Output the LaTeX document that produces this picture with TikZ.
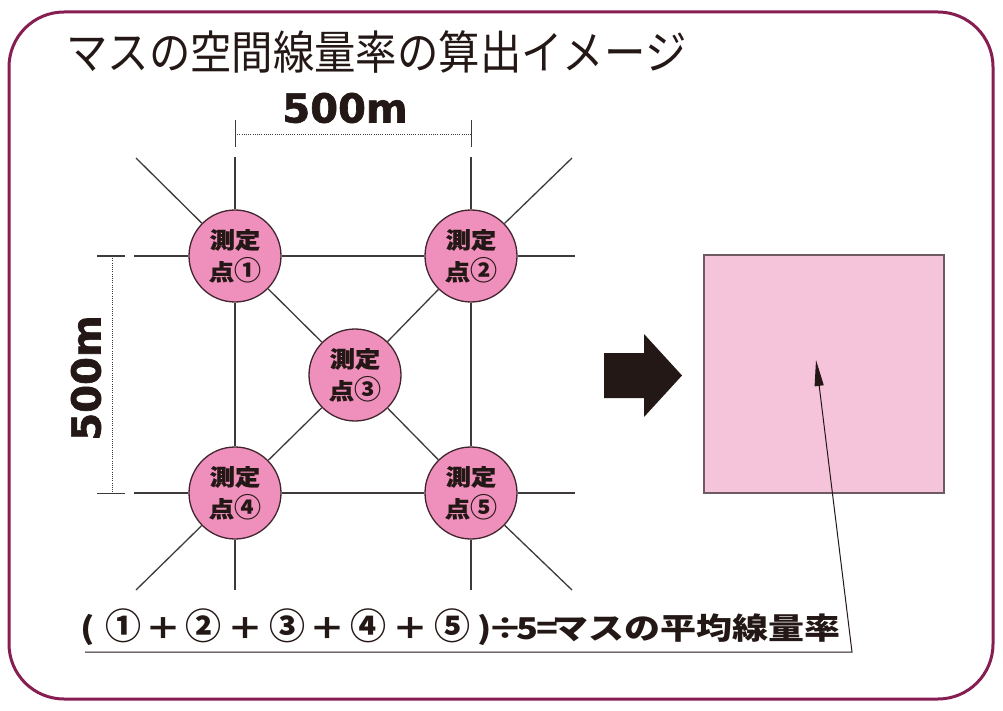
\documentclass[tikz,border=0pt]{standalone}
\usepackage{fontspec}
\usetikzlibrary{arrows.meta}
\newfontfamily\jp{Noto Sans CJK JP}
\newfontfamily\jpt{Noto Sans CJK JP}[FakeStretch=0.9]
\newfontfamily\jpw{Noto Sans CJK JP}[FakeStretch=1.2]
\newfontfamily\jpc{Noto Sans CJK JP}[FakeStretch=1.12,FakeBold=0.8]
\newfontfamily\dvb{DejaVu Sans}[FakeBold=1.6]
\newcommand{\cnum}[1]{{\jp\bfseries\fontsize{27}{27}\selectfont #1}}
\newcommand{\fnum}[1]{{\jp\bfseries\fontsize{36}{36}\selectfont #1}}
\definecolor{borderc}{HTML}{861E52}
\definecolor{circfill}{HTML}{EF8FBB}
\definecolor{circborder}{HTML}{40242E}
\definecolor{sqfill}{HTML}{F5C4DA}
\definecolor{sqborder}{HTML}{6E5A63}
\definecolor{linec}{HTML}{3E3A39}
\definecolor{textc}{HTML}{231815}
\begin{document}
\begin{tikzpicture}[x=1pt,y=-1pt,
  frame/.style={draw=borderc, line width=3pt, rounded corners=55pt},
  gridline/.style={draw=linec, line width=1.3pt},
  dimtick/.style={draw=linec, line width=1pt},
  dimdot/.style={draw=linec, line width=0.9pt, dash pattern=on 1pt off 1.2pt},
  mpoint/.style={circle, draw=circborder, line width=1.3pt, fill=circfill, minimum size=92pt, inner sep=0pt, align=center, font=\jpc\bfseries\fontsize{22.5}{32}\selectfont, text=textc},
  ftok/.style={anchor=base, inner sep=0pt, font=\jpw\bfseries\fontsize{30}{30}\selectfont, text=textc},
  dimlabel/.style={inner sep=0pt, font=\dvb\bfseries\fontsize{40}{40}\selectfont, text=textc},
  titletext/.style={anchor=base west, inner sep=0pt, font=\jpt\fontsize{46}{46}\selectfont, text=textc},
  mass/.style={draw=sqborder, line width=1.2pt, fill=sqfill, minimum width=240pt, minimum height=238pt, inner sep=0pt},
  pointer/.style={draw=textc, line width=1pt, -{Triangle[length=26pt,width=9pt]}},
  bigarrow/.style={fill=textc, draw=none},
]
\useasboundingbox (0,0) rectangle (1003,711);
\fill[white] (0,0) rectangle (1003,711);
\draw[frame] (9,12) rectangle (993,699);

\node[titletext] (title) at (66,70) {マスの空間線量率の算出イメージ};

% dimensions
\node[dimlabel] (dimtop) at (345,108) {500m};
\node[dimlabel, rotate=90] (dimleft) at (86,378) {500m};
\coordinate (tt1a) at (235,120); \coordinate (tt1b) at (235,147);
\coordinate (tt2a) at (471,120); \coordinate (tt2b) at (471,147);
\coordinate (td1) at (235,134); \coordinate (td2) at (471,134);
\draw[dimtick] (tt1a) -- (tt1b);
\draw[dimtick] (tt2a) -- (tt2b);
\draw[dimdot] (td1) -- (td2);
\coordinate (lt1a) at (97,256); \coordinate (lt1b) at (125,256);
\coordinate (lt2a) at (97,493); \coordinate (lt2b) at (125,493);
\coordinate (ld1) at (112,256); \coordinate (ld2) at (112,493);
\draw[dimtick] (lt1a) -- (lt1b);
\draw[dimtick] (lt2a) -- (lt2b);
\draw[dimdot] (ld1) -- (ld2);

% measurement points
\node[mpoint] (p1) at (235,256) {測定\\点\cnum{①}};
\node[mpoint] (p2) at (471,256) {測定\\点\cnum{②}};
\node[mpoint] (p3) at (355,375) {測定\\点\cnum{③}};
\node[mpoint] (p4) at (235,493) {測定\\点\cnum{④}};
\node[mpoint] (p5) at (471,493) {測定\\点\cnum{⑤}};

% grid
\coordinate (v1t) at (235,157); \coordinate (v1b) at (235,590);
\coordinate (v2t) at (471,157); \coordinate (v2b) at (471,590);
\coordinate (h1l) at (134,256); \coordinate (h1r) at (575,256);
\coordinate (h2l) at (134,493); \coordinate (h2r) at (575,493);
\coordinate (d1) at (136,158); \coordinate (d2) at (572,158);
\coordinate (d4) at (136,590); \coordinate (d5) at (572,590);
\draw[gridline] (v1t) -- (p1) -- (p4) -- (v1b);
\draw[gridline] (v2t) -- (p2) -- (p5) -- (v2b);
\draw[gridline] (h1l) -- (p1) -- (p2) -- (h1r);
\draw[gridline] (h2l) -- (p4) -- (p5) -- (h2r);
\draw[gridline] (d1) -- (p1) -- (p3) -- (p5) -- (d5);
\draw[gridline] (d2) -- (p2) -- (p3) -- (p4) -- (d4);

% big arrow
\coordinate (a1) at (604,353); \coordinate (a2) at (644,353);
\coordinate (a3) at (644,334); \coordinate (a4) at (682,375.5);
\coordinate (a5) at (644,417); \coordinate (a6) at (644,398);
\coordinate (a7) at (604,398);
\fill[bigarrow] (a1) -- (a2) -- (a3) -- (a4) -- (a5) -- (a6) -- (a7) -- cycle;

% mass square
\node[mass] (massbox) at (824,374) {};

% formula
\foreach \x/\t [count=\i] in {88/{(},123/{\fnum{①}},163/{＋},203/{\fnum{②}},245/{＋},287/{\fnum{③}},327/{＋},368/{\fnum{④}},410/{＋},452/{\fnum{⑤}},485/{)},505/{÷},527/{5},547/{=}}
  \node[ftok] (f\i) at (\x,639) {\t};
\node[ftok, anchor=base west] (fkana) at (552,639) {マスの平均線量率};

\coordinate (ul) at (85,652);
\coordinate (ur) at (852,652);
\coordinate (tip) at (816,360);
\draw[pointer] (ul) -- (ur) -- (tip);
\end{tikzpicture}
\end{document}
